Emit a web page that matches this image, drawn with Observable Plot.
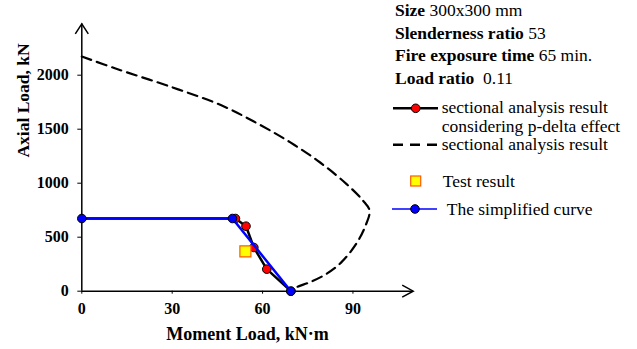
<!DOCTYPE html>
<html><head><meta charset="utf-8">
<script src="https://cdn.jsdelivr.net/npm/d3@7"></script>
<script src="https://cdn.jsdelivr.net/npm/@observablehq/plot@0.6"></script>
<style>
body{margin:0;background:#fff;}
#wrap{position:relative;width:637px;height:349px;font-family:"Liberation Serif","Times New Roman",serif;}
#wrap svg{position:absolute;left:0;top:0;}
#wrap svg text{font-family:"Liberation Serif","Times New Roman",serif;}
</style></head><body><div id="wrap"></div>
<script>
const xTicks = [0, 30, 60, 90];
const yTicks = [0, 500, 1000, 1500, 2000];
const xMax = 110, yMax = 2475;
// sectional analysis result considering p-delta effect
const pdeltaM = [0, 51, 54.5, 57.1, 61.4, 69.4];
const pdeltaP = [673, 673, 602, 405, 204, 0];
// sectional analysis result (dashed)
const sectionalM = [0, 11.2, 29.9, 46.5, 58.5, 69.1, 79, 87.8, 93.3, 95.5, 94.2, 91.1, 86.2, 81.2, 75.7, 71.3, 69.4];
const sectionalP = [2173, 2062, 1889, 1719, 1550, 1380, 1194, 994, 840, 747, 608, 439, 269, 161, 83, 37, 0];
// simplified curve
const simplifiedM = [0, 50, 69.4];
const simplifiedP = [673, 673, 0];
// test result
const testM = [54.3];
const testP = [368];
const xTitle = "Moment Load, kN\u00b7m";
const yTitle = "Axial Load, kN";
const info = [["Size", " 300x300 mm"], ["Slenderness ratio", " 53"], ["Fire exposure time", " 65 min."], ["Load ratio", "  0.11"]];
const legendLabels = ["sectional analysis result", "considering p-delta effect", "sectional analysis result", "Test result", "The simplified curve"];

const zip = (a, b) => a.map((v, i) => ({x: v, y: b[i]}));
const pdelta = zip(pdeltaM, pdeltaP);
const sectional = zip(sectionalM, sectionalP);
const simplified = zip(simplifiedM, simplifiedP);
const test = zip(testM, testP);

const upArrow = {draw(c) { c.moveTo(-6.5, 10); c.lineTo(0, 0); c.lineTo(6.5, 10); }};
const rightArrow = {draw(c) { c.moveTo(-11, -6); c.lineTo(0, 0); c.lineTo(-11, 6); }};

const font = '"Liberation Serif","Times New Roman",serif';
const chart = Plot.plot({
  width: 637, height: 349,
  marginLeft: 81.3, marginRight: 224.3, marginTop: 23.4, marginBottom: 58.3,
  x: {domain: [0, xMax]},
  y: {domain: [0, yMax]},
  style: {fontFamily: font, background: "white", color: "black"},
  marks: [
    Plot.axisX(xTicks, {tickSize: 3, tickPadding: 8.5, fontSize: 16, fontWeight: "bold", fontFamily: font, tickFormat: d => String(d), label: null, fill: "black", stroke: "black"}),
    Plot.axisY(yTicks, {tickSize: 4, tickPadding: 9, fontSize: 16, fontWeight: "bold", fontFamily: font, tickFormat: d => String(d), label: null, fill: "black", stroke: "black"}),
    Plot.ruleX([0], {y1: 0, y2: yMax, stroke: "black", strokeWidth: 1.5}),
    Plot.ruleY([0], {x1: 0, x2: xMax, stroke: "black", strokeWidth: 1.5}),
    Plot.dot([{x: 0, y: yMax}], {x: "x", y: "y", symbol: upArrow, fill: "none", stroke: "black", strokeWidth: 1.5}),
    Plot.dot([{x: xMax, y: 0}], {x: "x", y: "y", symbol: rightArrow, fill: "none", stroke: "black", strokeWidth: 1.5}),
    Plot.line(sectional, {x: "x", y: "y", curve: "catmull-rom", stroke: "black", strokeWidth: 2.2, strokeDasharray: "10,6"}),
    Plot.line(pdelta, {x: "x", y: "y", stroke: "black", strokeWidth: 2.5}),
    Plot.dot(pdelta.slice(1), {x: "x", y: "y", r: 4.3, fill: "#ff0000", stroke: "black", strokeWidth: 1}),
    Plot.line(simplified, {x: "x", y: "y", stroke: "#0000ff", strokeWidth: 2.5}),
    Plot.dot(simplified, {x: "x", y: "y", r: 4.3, fill: "#0000ff", stroke: "black", strokeWidth: 1}),
    Plot.dot(test, {x: "x", y: "y", symbol: "square", r: 6.2, fill: "#ffff00", stroke: "#ff5a00", strokeWidth: 1.2}),
    Plot.text([xTitle], {frameAnchor: "bottom", dy: 43.5, lineAnchor: "middle", fontSize: 18, fontWeight: "bold", fontFamily: font, fill: "black"}),
    Plot.text([yTitle], {frameAnchor: "left", rotate: -90, dx: -58.8, lineAnchor: "middle", fontSize: 17.5, fontWeight: "bold", fontFamily: font, fill: "black"})
  ]
});
document.getElementById("wrap").appendChild(chart);

// legend overlay
const svg = d3.select("#wrap").append("svg").attr("width", 637).attr("height", 349)
  .style("font-family", font).style("font-size", "17.5px");
const infoY = [16, 38.6, 61.2, 83.8];
info.forEach((d, i) => {
  const t = svg.append("text").attr("x", 395).attr("y", infoY[i]).attr("xml:space", "preserve");
  t.append("tspan").attr("font-weight", "bold").text(d[0]);
  t.append("tspan").text(d[1]);
});
const lx = [441.7, 441.7, 441.7, 442.7, 446.7];
const ly = [113, 131.7, 150, 186.7, 215];
legendLabels.forEach((s, i) => svg.append("text").attr("x", lx[i]).attr("y", ly[i]).text(s));
svg.append("line").attr("x1", 393).attr("x2", 438).attr("y1", 108.3).attr("y2", 108.3).attr("stroke", "black").attr("stroke-width", 2.5);
svg.append("circle").attr("cx", 415.7).attr("cy", 108.3).attr("r", 4.3).attr("fill", "#ff0000").attr("stroke", "black");
svg.append("line").attr("x1", 393).attr("x2", 437.5).attr("y1", 144.7).attr("y2", 144.7).attr("stroke", "black").attr("stroke-width", 2.5).attr("stroke-dasharray", "10,7");
svg.append("rect").attr("x", 410.7).attr("y", 176).attr("width", 10).attr("height", 10).attr("fill", "#ffff00").attr("stroke", "#ff5a00").attr("stroke-width", 1.2);
svg.append("line").attr("x1", 392).attr("x2", 437).attr("y1", 209).attr("y2", 209).attr("stroke", "#0000ff").attr("stroke-width", 1.5);
svg.append("circle").attr("cx", 415).attr("cy", 209).attr("r", 4.3).attr("fill", "#0000ff").attr("stroke", "black");
</script></body></html>
